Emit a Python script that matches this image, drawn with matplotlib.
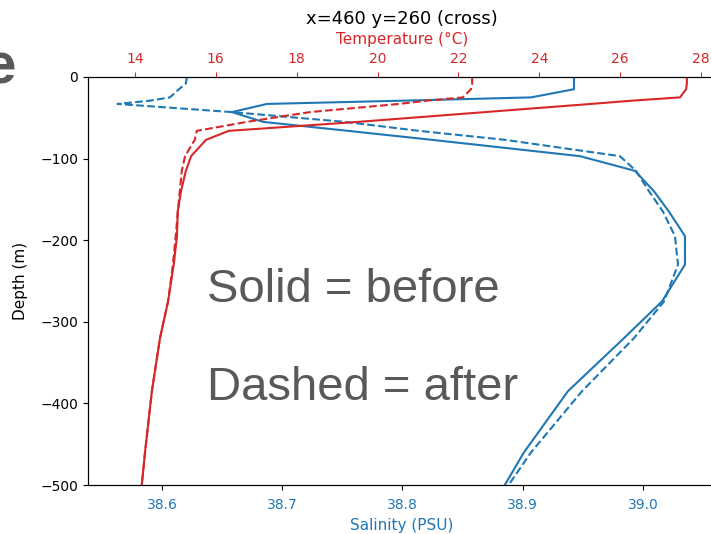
import matplotlib
matplotlib.use("Agg")
import matplotlib.pyplot as plt

# depth levels (m) shared by all profiles
depth = [0, -8, -15, -25, -29, -33, -43, -55, -66, -77, -97, -115, -140,
         -165, -195, -230, -275, -320, -385, -460, -510]

sal_before = [38.9426, 38.9426, 38.9426, 38.9069, 38.8004, 38.6873, 38.6582,
              38.6840, 38.7547, 38.8245, 38.9476, 38.9933, 39.0091, 39.0216,
              39.0349, 39.0349, 39.0158, 38.9842, 38.9376, 38.9010, 38.8811]
sal_after = [38.6208, 38.6199, 38.6141, 38.6066, 38.5900, 38.5630, 38.6582,
             38.7522, 38.8137, 38.8852, 38.9808, 38.9942, 39.0050, 39.0166,
             39.0266, 39.0291, 39.0175, 38.9925, 38.9493, 38.9069, 38.8836]
temp_before = [27.65, 27.65, 27.63, 27.48, 26.29, 25.28, 22.66, 19.52, 16.32,
               15.76, 15.39, 15.26, 15.14, 15.06, 15.04, 14.96, 14.82, 14.62,
               14.42, 14.25, 14.15]
temp_after = [22.34, 22.34, 22.31, 22.11, 21.22, 20.53, 18.33, 16.77, 15.53,
              15.48, 15.24, 15.16, 15.11, 15.06, 15.01, 14.94, 14.82, 14.62,
              14.42, 14.25, 14.15]

W, H = 711, 534
fig = plt.figure(figsize=(W / 100, H / 100), dpi=100)
ax = fig.add_axes([88 / W, 1 - 485 / H, (716 - 88) / W, (485 - 77) / H])

ax.plot(sal_before, depth, color='tab:blue', lw=1.5)
ax.plot(sal_after, depth, color='tab:blue', lw=1.5, ls='--')
ax.set_xlim(38.5385, 39.0607)
ax.set_ylim(-500, 0)
ax.set_xlabel('Salinity (PSU)', color='tab:blue', fontsize=11)
ax.set_ylabel('Depth (m)', fontsize=11, labelpad=9)
ax.tick_params(axis='x', labelcolor='tab:blue', pad=6)

ax2 = ax.twiny()
ax2.plot(temp_before, depth, color='tab:red', lw=1.5)
ax2.plot(temp_after, depth, color='tab:red', lw=1.5, ls='--')
ax2.set_xlim(12.84, 28.37)
ax2.set_xticks([14, 16, 18, 20, 22, 24, 26, 28])
ax2.set_xlabel('Temperature (°C)', color='tab:red', fontsize=11, labelpad=6)
ax2.tick_params(axis='x', labelcolor='tab:red', color='tab:red', pad=4.2)
ax2.set_title('x=460 y=260 (cross)', fontsize=13)

grey = '#595959'
fig.text(207 / W, 1 - 302 / H, 'Solid = before', fontsize=34, color=grey,
         family='Liberation Sans', va='baseline', ha='left')
fig.text(207 / W, 1 - 400 / H, 'Dashed = after', fontsize=34, color=grey,
         family='Liberation Sans', va='baseline', ha='left')
fig.text(16 / W, 1 - 83 / H, 'e', fontsize=42, color=grey, fontweight='bold',
         family='Liberation Sans', va='baseline', ha='right')

fig.savefig('out.png', dpi=100)
